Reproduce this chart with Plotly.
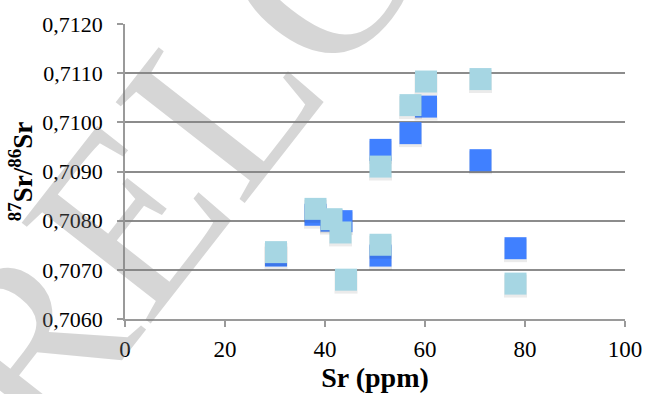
import plotly.graph_objects as go

# Sr concentration (ppm) and 87Sr/86Sr ratio, two sample groups
sr_dark = [30.2, 38.1, 41.3, 43.3, 51.1, 51.1, 57.1, 60.2, 71.1, 78.1]
ratio_dark = [0.70729, 0.70812, 0.70800, 0.70799, 0.70944, 0.70729,
              0.70978, 0.71032, 0.70923, 0.70744]

sr_light = [30.2, 38.1, 41.3, 43.1, 44.2, 51.1, 51.1, 57.1, 60.2, 71.1, 78.1]
ratio_light = [0.70736, 0.70824, 0.70803, 0.70776, 0.70680, 0.70910,
               0.70751, 0.71035, 0.71083, 0.71088, 0.70672]

x_ticks = [0, 20, 40, 60, 80, 100]
y_ticks = [0.7060, 0.7070, 0.7080, 0.7090, 0.7100, 0.7110, 0.7120]

DARK = "#4080FF"
LIGHT = "#A6D6E3"
SERIF = "Liberation Serif"

# small downward offset for the soft drop shadow under each square
shadow_dy = 0.00005

fig = go.Figure()

for xs, ys, col in [(sr_dark, ratio_dark, DARK), (sr_light, ratio_light, LIGHT)]:
    fig.add_trace(go.Scatter(
        x=xs, y=[v - shadow_dy for v in ys], mode="markers",
        marker=dict(symbol="square", size=23, color="rgba(0,0,0,0.08)",
                    line=dict(width=0)),
        hoverinfo="skip", showlegend=False))
    fig.add_trace(go.Scatter(
        x=xs, y=ys, mode="markers",
        marker=dict(symbol="square", size=22, color=col, line=dict(width=0)),
        showlegend=False))

fig.update_layout(
    width=654, height=394,
    margin=dict(l=125, r=29, t=17, b=70),
    paper_bgcolor="white", plot_bgcolor="white",
    separators=", ",
    font=dict(family=SERIF, color="black"),
    xaxis=dict(
        range=[0, 100], tickvals=x_ticks, ticks="outside", ticklen=6,
        tickcolor="#9a9a9a", tickwidth=1.5,
        showline=True, linecolor="#9a9a9a", linewidth=1.5,
        showgrid=False, zeroline=False,
        tickfont=dict(size=23, family=SERIF), ticklabelstandoff=3,
        title=dict(text="<b>Sr (ppm)</b>", font=dict(size=28, family=SERIF),
                   standoff=0),
    ),
    yaxis=dict(
        range=[0.7060, 0.7120], tickvals=y_ticks, tickformat=".4f",
        ticks="outside", ticklen=6, tickcolor="#9a9a9a", tickwidth=1.5,
        showline=True, linecolor="#9a9a9a", linewidth=1.5,
        showgrid=True, gridcolor="#8c8c8c", gridwidth=2, zeroline=False,
        tickfont=dict(size=22, family=SERIF), ticklabelstandoff=10,
        title=dict(text="<b><sup>87</sup>Sr/<sup>86</sup>Sr</b>",
                   font=dict(size=27, family=SERIF), standoff=2),
    ),
)

# diagonal watermark lettering
fig.add_annotation(
    text="RELO", xref="paper", yref="paper",
    x=(178 - 125) / 500, y=(324 - 150) / 307,
    xanchor="center", yanchor="middle",
    showarrow=False, textangle=-52,
    font=dict(family=SERIF, size=250, color="rgba(128,128,128,0.32)"),
)

fig.write_html("out.html")
